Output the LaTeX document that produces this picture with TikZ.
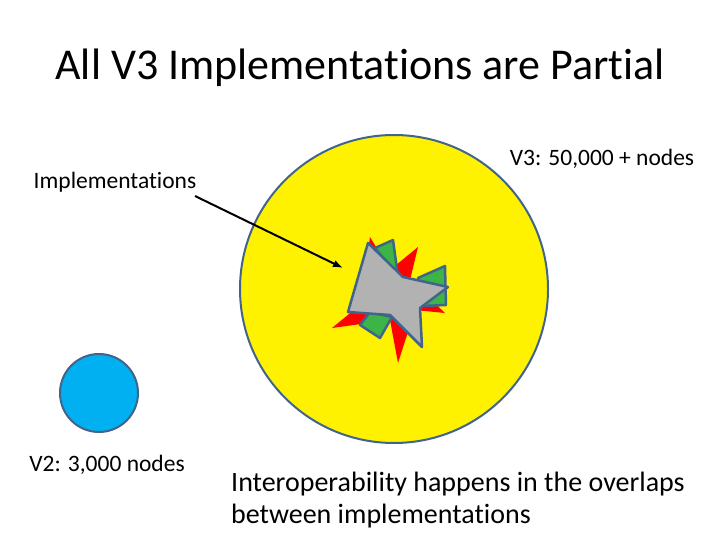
\documentclass[tikz,border=0pt]{standalone}
\usepackage{fontspec}
\setmainfont[Ligatures=NoCommon]{Carlito}
\usetikzlibrary{arrows.meta}
\definecolor{edge}{RGB}{65,100,140}
\definecolor{sky}{RGB}{0,176,240}
\definecolor{grn}{RGB}{60,180,70}
\begin{document}
\begin{tikzpicture}[x=1pt,y=-1pt,
  lbl/.style={font=\fontsize{23.5}{28}\selectfont, inner sep=0pt},
  shp/.style={draw=edge, line width=2.5pt, line join=round}]
\useasboundingbox (0,0) rectangle (720,540);
\node[font=\fontsize{44}{52}\selectfont] (title) at (360,68) {All V3 Implementations are Partial};
\node[shp, circle, fill=yellow, minimum size=308pt, line width=2pt] (v3) at (394,289) {};
\node[shp, circle, fill=sky, minimum size=78pt, line width=2pt] (v2) at (99,393) {};
\fill[red] (370,237)--(390,270)--(418,247)--(410,280)--(445,313)--(415,310)--(398,363)--(390,320)--(332,328)--(360,305)--cycle;
\draw[shp, fill=grn] (375,248)--(393,240)--(398,276)--cycle;
\draw[shp, fill=grn] (418,278)--(445,266)--(446,305)--(422,306)--cycle;
\draw[shp, fill=grn] (360,325)--(380,338)--(392,317)--(370,312)--cycle;
\draw[shp, fill=gray!60] (368,243)--(403,277)--(448,287)--(420,308)--(422,347)--(390,315)--(348,312)--cycle;
\coordinate (tip) at (343,268);
\node[lbl] (impl) at (115,182) {Implementations};
\coordinate (tail) at (195,196);
\draw[-{Latex[length=10pt]}, line width=2pt] (tail) -- (tip);
\node[lbl] (v3l) at (602,159) {V3: 50,000 + nodes};
\node[lbl] (v2l) at (107,465) {V2: 3,000 nodes};
\node[lbl, font=\fontsize{28}{32}\selectfont, align=left, anchor=north west] (note) at (231,472) {Interoperability happens in the overlaps\\between implementations};
\end{tikzpicture}
\end{document}
